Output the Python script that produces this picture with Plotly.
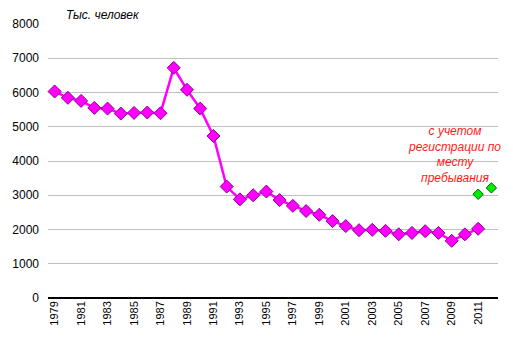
import plotly.graph_objects as go

years = list(range(1979, 2012))
values = [6030, 5845, 5755, 5550, 5530, 5385, 5405, 5415, 5395, 6720,
          6080, 5530, 4730, 3254, 2880, 3000, 3108, 2860, 2690, 2540,
          2430, 2245, 2100, 1980, 1990, 1960, 1860, 1900, 1950, 1900,
          1670, 1860, 2020]
reg_years = [2011, 2012]
reg_values = [3030, 3215]
tick_years = list(range(1979, 2012, 2))
tick_labels = [str(y) for y in tick_years]

fig = go.Figure()
fig.add_trace(go.Scatter(
    x=years, y=values, mode="lines+markers",
    line=dict(color="#ff00ff", width=2.5),
    marker=dict(symbol="diamond", size=10, color="#ff00ff",
                line=dict(color="#8a0090", width=1)),
    showlegend=False, cliponaxis=False))
fig.add_trace(go.Scatter(
    x=reg_years, y=reg_values, mode="markers",
    marker=dict(symbol="diamond", size=8, color="#00ee00",
                line=dict(color="#006000", width=1)),
    showlegend=False, cliponaxis=False))

fig.add_annotation(text="Тыс. человек", xref="paper", yref="paper",
                   x=0.035, y=1.0, xanchor="left", yanchor="bottom",
                   showarrow=False,
                   font=dict(family="Liberation Sans, Arial", size=12,
                             color="#000000", style="italic"))
fig.add_annotation(text="с учетом<br>регистрации по<br>месту<br>пребывания",
                   x=2009.2, y=4180, xref="x", yref="y",
                   xanchor="center", yanchor="middle", showarrow=False,
                   align="center",
                   font=dict(family="Liberation Sans, Arial", size=12,
                             color="#ff1a1a", style="italic"))

fig.update_layout(
    width=513, height=350,
    margin=dict(l=48, r=15, t=24, b=52),
    paper_bgcolor="white", plot_bgcolor="white",
    font=dict(family="Liberation Sans, Arial", size=12, color="#000000"),
    xaxis=dict(range=[1978.5, 2012.5], tickmode="array",
               tickvals=tick_years, ticktext=tick_labels, tickangle=-90,
               showgrid=False, zeroline=False, showline=False,
               tickfont=dict(size=11), ticks=""),
    yaxis=dict(range=[0, 8000], dtick=1000, tick0=0,
               showgrid=True, gridcolor="#c0c0c0", gridwidth=1,
               zeroline=True, zerolinecolor="#000000", zerolinewidth=1.5,
               showline=False, ticks="", ticklabelstandoff=8,
               tickfont=dict(size=12)),
)
fig.write_html("out.html")
